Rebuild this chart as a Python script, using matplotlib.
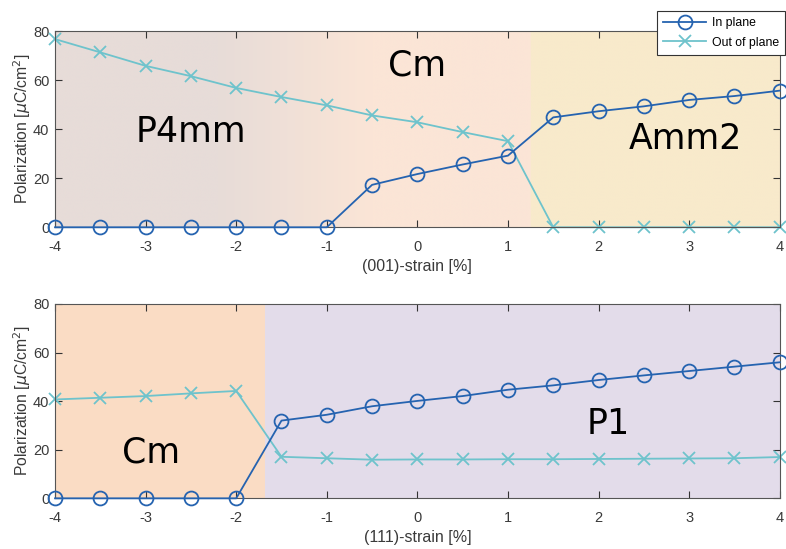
import numpy as np
import matplotlib
matplotlib.use("Agg")
import matplotlib.pyplot as plt
from matplotlib.colors import to_rgb

strain = [-4, -3.5, -3, -2.5, -2, -1.5, -1, -0.5, 0, 0.5, 1, 1.5, 2, 2.5, 3, 3.5, 4]

top_in = [0, 0, 0, 0, 0, 0, 0, 17.3, 21.7, 25.6, 29.2, 44.8, 47.3, 49.3, 51.9, 53.5, 55.7]
top_out = [76.7, 71.3, 65.8, 61.6, 56.8, 53.1, 49.7, 45.6, 42.8, 38.8, 35.1, 0, 0, 0, 0, 0, 0]

bot_in = [0, 0, 0, 0, 0, 32.0, 34.4, 37.9, 40.1, 42.1, 44.7, 46.5, 48.7, 50.6, 52.4, 54.2, 56.0]
bot_out = [40.7, 41.4, 42.1, 43.2, 44.2, 17.1, 16.5, 15.9, 16.0, 16.0, 16.1, 16.1, 16.2, 16.3, 16.4, 16.5, 17.0]

xticks = [-4, -3, -2, -1, 0, 1, 2, 3, 4]
yticks = [0, 20, 40, 60, 80]

c_in = "#2563b0"
c_out = "#6ec3cc"

tick_font = ['Liberation Sans Narrow', 'Liberation Sans', 'DejaVu Sans']
leg_font = ['Liberation Sans', 'DejaVu Sans']
phase_font = ['DejaVu Sans']

fig = plt.figure(figsize=(7.86, 5.49), dpi=100)
ax1 = fig.add_axes([0.070, 0.586, 0.922, 0.3575])
ax2 = fig.add_axes([0.070, 0.0923, 0.922, 0.354])


def style(ax, xlabel):
    ax.set_xlim(-4, 4)
    ax.set_ylim(0, 80)
    ax.set_xticks(xticks)
    ax.set_yticks(yticks)
    ax.set_xticklabels([str(t) for t in xticks], family=tick_font, fontsize=10.5, color="#3a3a3a")
    ax.set_yticklabels([str(t) for t in yticks], family=tick_font, fontsize=10.5, color="#3a3a3a")
    ax.tick_params(direction="in", top=True, right=True, length=5, width=0.8,
                   color="#333333")
    ax.tick_params(axis="x", pad=9)
    ax.tick_params(axis="y", pad=4)
    for s in ax.spines.values():
        s.set_color("#555555")
        s.set_linewidth(0.8)
    ax.set_xlabel(xlabel, family=tick_font, fontsize=11.5, color="#3a3a3a", labelpad=4)
    ax.set_ylabel(r"Polarization [$\mu$C/cm$^2$]", family=tick_font, fontsize=11.3,
                  color="#3a3a3a", labelpad=0)


# Top background: gradient P4mm -> Cm, then Amm2
p4 = np.array(to_rgb("#e7dcd8"))
cm = np.array(to_rgb("#fbe5d6"))
am = np.array(to_rgb("#f8eacb"))
xs = np.linspace(-4, 4, 800)
img = np.zeros((2, len(xs), 3))
for i, xv in enumerate(xs):
    if xv >= 1.25:
        col = am
    else:
        t = np.clip((xv + 2.2) / 1.7, 0, 1)
        col = p4 * (1 - t) + cm * t
    img[:, i, :] = col
ax1.imshow(img, extent=[-4, 4, 0, 80], aspect="auto", zorder=0, interpolation="bilinear")

ax1.plot(strain, top_in, "-o", color=c_in, mfc="none", ms=10, mew=1.3, lw=1.3,
         clip_on=False, zorder=3, label="In plane")
ax1.plot(strain, top_out, "-x", color=c_out, ms=8, mew=1.3, lw=1.3,
         clip_on=False, zorder=2, label="Out of plane")
style(ax1, "(001)-strain [%]")
ax1.text(-2.5, 39, "P4mm", fontsize=25, family=phase_font, ha="center", va="center")
ax1.text(0.0, 66, "Cm", fontsize=25, family=phase_font, ha="center", va="center")
ax1.text(2.96, 36, "Amm2", fontsize=25, family=phase_font, ha="center", va="center")

# Bottom background
ax2.axvspan(-4, -1.68, color="#fadcc4", zorder=0, lw=0)
ax2.axvspan(-1.68, 4, color="#e3dcea", zorder=0, lw=0)
ax2.plot(strain, bot_in, "-o", color=c_in, mfc="none", ms=10, mew=1.3, lw=1.3,
         clip_on=False, zorder=3)
ax2.plot(strain, bot_out, "-x", color=c_out, ms=8, mew=1.3, lw=1.3,
         clip_on=False, zorder=2)
style(ax2, "(111)-strain [%]")
ax2.text(-2.94, 19, "Cm", fontsize=25, family=phase_font, ha="center", va="center")
ax2.text(2.11, 30.5, "P1", fontsize=25, family=phase_font, ha="center", va="center")

leg = fig.legend(loc="upper left", bbox_to_anchor=(657 / 786, 1 - 10.7 / 549),
                 prop={"family": leg_font, "size": 8.8}, frameon=True, fancybox=False,
                 edgecolor="#333333", framealpha=1, borderpad=0.5, labelspacing=0.65,
                 handlelength=3.5, handletextpad=0.5, borderaxespad=0)
leg.get_frame().set_linewidth(0.8)

fig.savefig("out.png", dpi=100)
